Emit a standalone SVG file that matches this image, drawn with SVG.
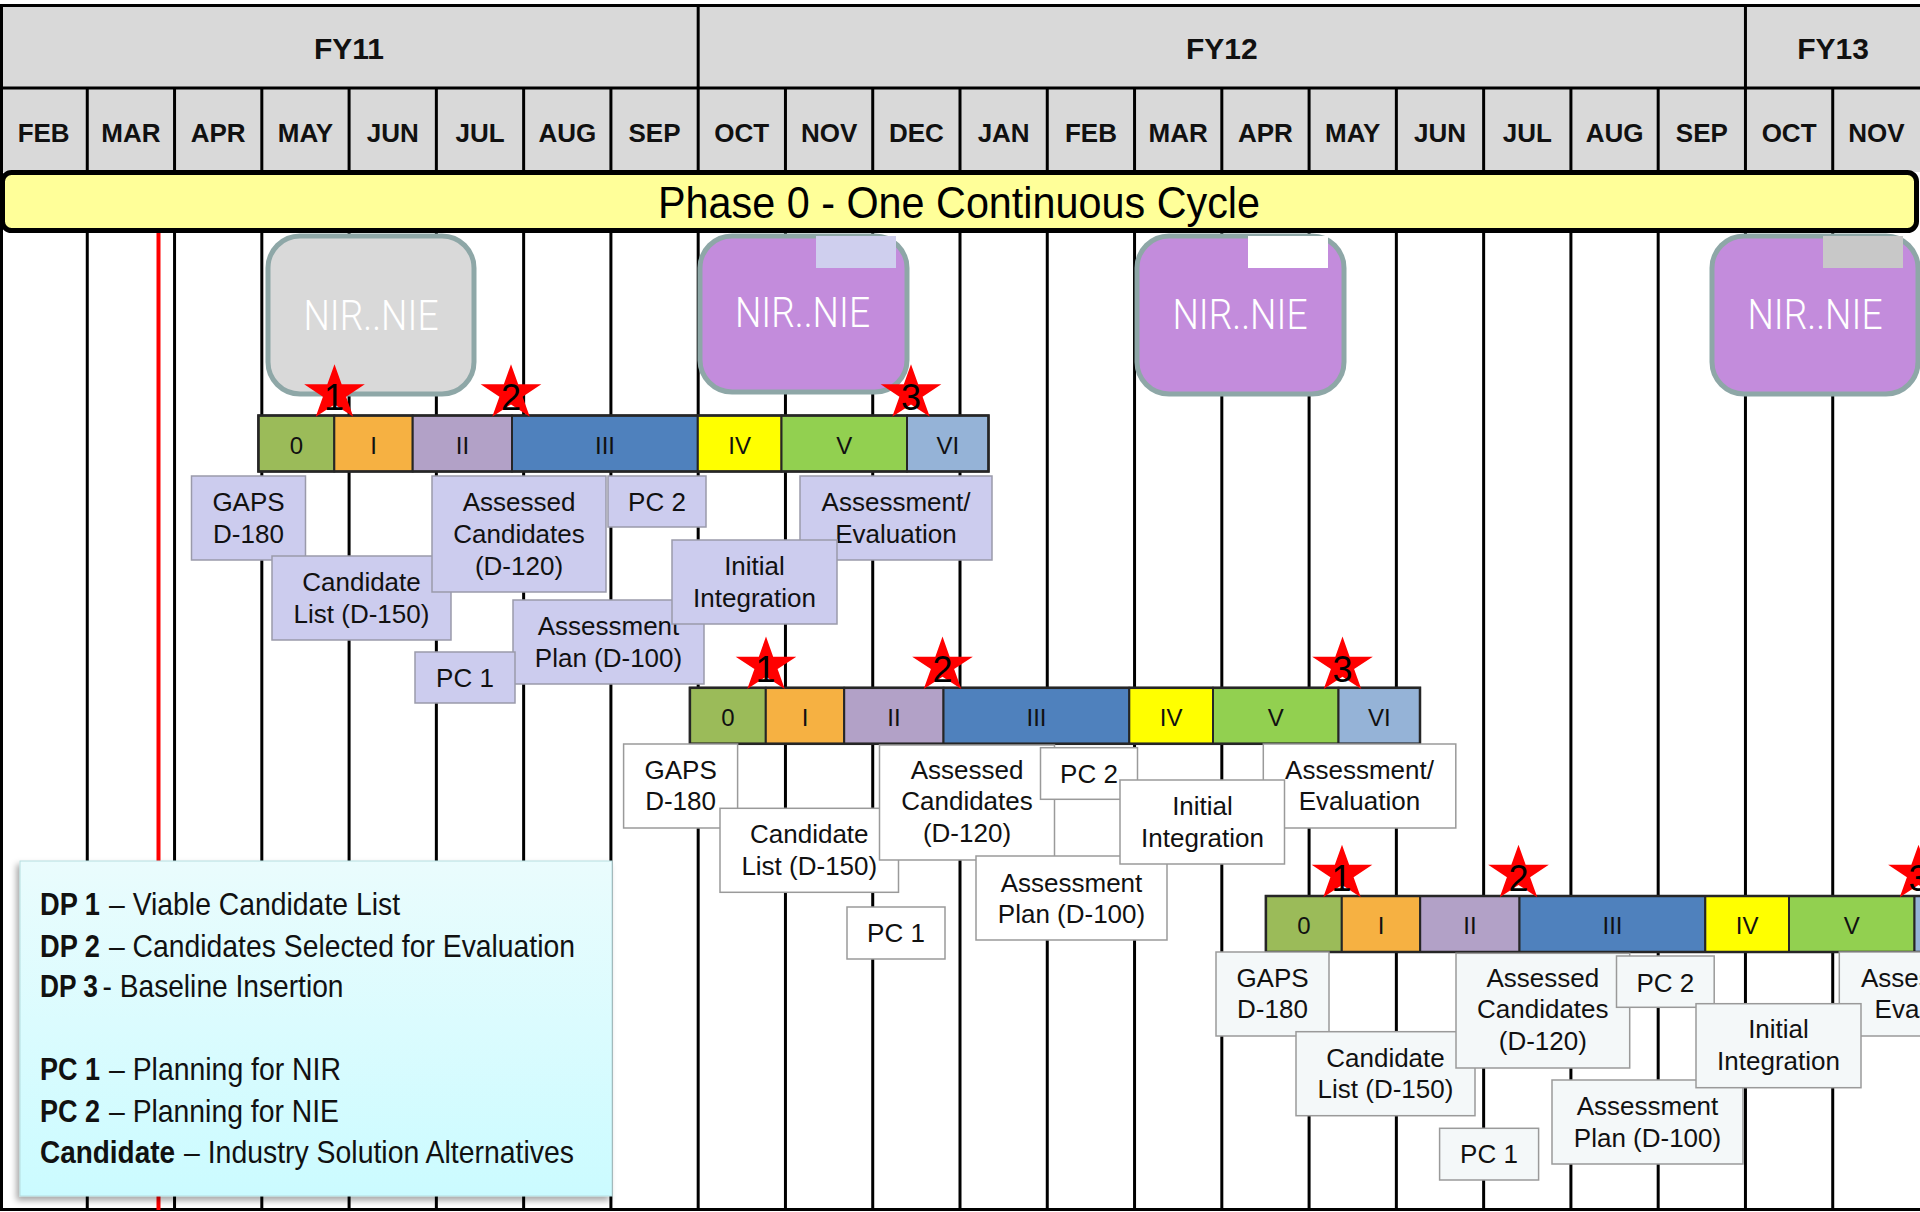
<svg xmlns="http://www.w3.org/2000/svg" xmlns:xlink="http://www.w3.org/1999/xlink" width="1920" height="1212" viewBox="0 0 1920 1212">
<style>
.hdr{fill:#d9d9d9}
.ln{stroke:#000;stroke-width:3;fill:none}
.mon{font-family:"Liberation Sans",Arial,sans-serif;font-weight:bold;font-size:26px;fill:#111;text-anchor:middle}
.fy{font-family:"Liberation Sans",Arial,sans-serif;font-weight:bold;font-size:30px;fill:#111;text-anchor:middle}
.nir{fill:#c38cdc;stroke:#8ea7a7;stroke-width:5}
.nirg{fill:#d9d9d9;stroke:#8ea7a7;stroke-width:5}
.nirt{font-family:Roboto,"Liberation Sans",Arial,sans-serif;font-weight:300;font-size:42px;fill:#fff;text-anchor:middle}
.seg{stroke:#262626;stroke-width:2}
.segt{font-family:"Liberation Sans Narrow","Liberation Sans",Arial,sans-serif;font-size:24px;fill:#111;text-anchor:middle}
.num{font-family:"Liberation Sans Narrow","Liberation Sans",Arial,sans-serif;font-size:36px;fill:#000;text-anchor:middle}
.lb1{fill:#ccccee;stroke:#9a9aaa;stroke-width:1.5}
.lb2{fill:#ffffff;stroke:#9a9a9a;stroke-width:1.5}
.lb3{fill:#f4f8f9;stroke:#9a9a9a;stroke-width:1.5}
.lt{font-family:"Liberation Sans",Arial,sans-serif;font-size:26px;fill:#111;text-anchor:middle}
.lg{font-family:"Liberation Sans Narrow","Liberation Sans",Arial,sans-serif;font-size:32px;fill:#111}
.lgb{font-family:"Liberation Sans Narrow","Liberation Sans",Arial,sans-serif;font-size:32px;font-weight:bold;fill:#111}
</style>
<defs>
<path id="star" d="M0,-29 L7.17,-8.96 L30.34,-8.96 L11.59,3.42 L18.75,23.46 L0,11.08 L-18.75,23.46 L-11.59,3.42 L-30.34,-8.96 L-7.17,-8.96 Z" fill="#ff0000"/>
<linearGradient id="lgGrad" x1="0" y1="0" x2="0" y2="1">
<stop offset="0" stop-color="#eafcfd"/>
<stop offset="1" stop-color="#cbfbff"/>
</linearGradient>
<filter id="shadow" x="-10%" y="-10%" width="120%" height="120%">
<feDropShadow dx="-3" dy="4" stdDeviation="3" flood-color="#000" flood-opacity="0.35"/>
</filter>
<g id="cycle">
<rect class="seg" x="258.4" y="415.5" width="75.9" height="56" fill="#9bbb59"/>
<rect class="seg" x="334.3" y="415.5" width="78.4" height="56" fill="#f6b142"/>
<rect class="seg" x="412.7" y="415.5" width="99.3" height="56" fill="#b2a1c7"/>
<rect class="seg" x="512" y="415.5" width="185.8" height="56" fill="#4f81bd"/>
<rect class="seg" x="697.8" y="415.5" width="83.7" height="56" fill="#ffff00"/>
<rect class="seg" x="781.5" y="415.5" width="125.5" height="56" fill="#92d050"/>
<rect class="seg" x="907" y="415.5" width="81.5" height="56" fill="#95b3d7"/>
<rect x="258.4" y="415.5" width="730.1" height="56" fill="none" stroke="#262626" stroke-width="2.5"/>
<text class="segt" x="296.4" y="453.5">0</text>
<text class="segt" x="373.5" y="453.5">I</text>
<text class="segt" x="462.4" y="453.5">II</text>
<text class="segt" x="605" y="453.5">III</text>
<text class="segt" x="739.7" y="453.5">IV</text>
<text class="segt" x="844.3" y="453.5">V</text>
<text class="segt" x="947.8" y="453.5">VI</text>
<use xlink:href="#star" href="#star" transform="translate(334.5,393.3)"/>
<use xlink:href="#star" href="#star" transform="translate(511,393.3)"/>
<use xlink:href="#star" href="#star" transform="translate(911,393.3)"/>
<text class="num" x="334" y="410">1</text>
<text class="num" x="511" y="410">2</text>
<text class="num" x="911" y="410">3</text>
</g>
</defs>

<rect x="0" y="0" width="1920" height="1212" fill="#ffffff"/>

<g id="header">
<rect class="hdr" x="0" y="5" width="1920" height="167"/>
<g class="ln">
<line x1="0" y1="5.5" x2="1920" y2="5.5"/>
<line x1="0" y1="88" x2="1920" y2="88"/>
<line x1="698.18" y1="5" x2="698.18" y2="88"/>
<line x1="1745.45" y1="5" x2="1745.45" y2="88"/>
<line x1="87.27" y1="88" x2="87.27" y2="172"/>
<line x1="174.55" y1="88" x2="174.55" y2="172"/>
<line x1="261.82" y1="88" x2="261.82" y2="172"/>
<line x1="349.09" y1="88" x2="349.09" y2="172"/>
<line x1="436.36" y1="88" x2="436.36" y2="172"/>
<line x1="523.64" y1="88" x2="523.64" y2="172"/>
<line x1="610.91" y1="88" x2="610.91" y2="172"/>
<line x1="698.18" y1="88" x2="698.18" y2="172"/>
<line x1="785.45" y1="88" x2="785.45" y2="172"/>
<line x1="872.73" y1="88" x2="872.73" y2="172"/>
<line x1="960" y1="88" x2="960" y2="172"/>
<line x1="1047.27" y1="88" x2="1047.27" y2="172"/>
<line x1="1134.55" y1="88" x2="1134.55" y2="172"/>
<line x1="1221.82" y1="88" x2="1221.82" y2="172"/>
<line x1="1309.09" y1="88" x2="1309.09" y2="172"/>
<line x1="1396.36" y1="88" x2="1396.36" y2="172"/>
<line x1="1483.64" y1="88" x2="1483.64" y2="172"/>
<line x1="1570.91" y1="88" x2="1570.91" y2="172"/>
<line x1="1658.18" y1="88" x2="1658.18" y2="172"/>
<line x1="1745.45" y1="88" x2="1745.45" y2="172"/>
<line x1="1832.73" y1="88" x2="1832.73" y2="172"/>
</g>
<text class="fy" x="349" y="59">FY11</text>
<text class="fy" x="1221.8" y="59">FY12</text>
<text class="fy" x="1833" y="59">FY13</text>
<text class="mon" x="43.64" y="142">FEB</text>
<text class="mon" x="130.91" y="142">MAR</text>
<text class="mon" x="218.18" y="142">APR</text>
<text class="mon" x="305.45" y="142">MAY</text>
<text class="mon" x="392.73" y="142">JUN</text>
<text class="mon" x="480" y="142">JUL</text>
<text class="mon" x="567.27" y="142">AUG</text>
<text class="mon" x="654.55" y="142">SEP</text>
<text class="mon" x="741.82" y="142">OCT</text>
<text class="mon" x="829.09" y="142">NOV</text>
<text class="mon" x="916.36" y="142">DEC</text>
<text class="mon" x="1003.64" y="142">JAN</text>
<text class="mon" x="1090.91" y="142">FEB</text>
<text class="mon" x="1178.18" y="142">MAR</text>
<text class="mon" x="1265.45" y="142">APR</text>
<text class="mon" x="1352.73" y="142">MAY</text>
<text class="mon" x="1440" y="142">JUN</text>
<text class="mon" x="1527.27" y="142">JUL</text>
<text class="mon" x="1614.55" y="142">AUG</text>
<text class="mon" x="1701.82" y="142">SEP</text>
<text class="mon" x="1789.09" y="142">OCT</text>
<text class="mon" x="1876.36" y="142">NOV</text>
</g>

<g id="grid" class="ln">
<line x1="1.5" y1="5" x2="1.5" y2="1211"/>
<line x1="0" y1="1209.5" x2="1920" y2="1209.5"/>
<line x1="87.27" y1="232" x2="87.27" y2="1210"/>
<line x1="174.55" y1="232" x2="174.55" y2="1210"/>
<line x1="261.82" y1="232" x2="261.82" y2="1210"/>
<line x1="349.09" y1="232" x2="349.09" y2="1210"/>
<line x1="436.36" y1="232" x2="436.36" y2="1210"/>
<line x1="523.64" y1="232" x2="523.64" y2="1210"/>
<line x1="610.91" y1="232" x2="610.91" y2="1210"/>
<line x1="698.18" y1="232" x2="698.18" y2="1210"/>
<line x1="785.45" y1="232" x2="785.45" y2="1210"/>
<line x1="872.73" y1="232" x2="872.73" y2="1210"/>
<line x1="960" y1="232" x2="960" y2="1210"/>
<line x1="1047.27" y1="232" x2="1047.27" y2="1210"/>
<line x1="1134.55" y1="232" x2="1134.55" y2="1210"/>
<line x1="1221.82" y1="232" x2="1221.82" y2="1210"/>
<line x1="1309.09" y1="232" x2="1309.09" y2="1210"/>
<line x1="1396.36" y1="232" x2="1396.36" y2="1210"/>
<line x1="1483.64" y1="232" x2="1483.64" y2="1210"/>
<line x1="1570.91" y1="232" x2="1570.91" y2="1210"/>
<line x1="1658.18" y1="232" x2="1658.18" y2="1210"/>
<line x1="1745.45" y1="232" x2="1745.45" y2="1210"/>
<line x1="1832.73" y1="232" x2="1832.73" y2="1210"/>
</g>
<line id="today" x1="158.5" y1="232" x2="158.5" y2="1210" stroke="#ff0000" stroke-width="4"/>

<g id="phase-bar">
<rect x="2.5" y="172.5" width="1914" height="58" rx="9" fill="#ffff99" stroke="#000" stroke-width="5"/>
<text x="658" y="218" textLength="602" lengthAdjust="spacingAndGlyphs" font-family="'Liberation Sans Narrow','Liberation Sans',Arial,sans-serif" font-size="44" fill="#000">Phase 0 - One Continuous Cycle</text>
</g>

<g id="nir1">
<rect class="nirg" x="268" y="236" width="206" height="158" rx="32"/>
<text class="nirt" x="371" y="330" textLength="135" lengthAdjust="spacingAndGlyphs">NIR..NIE</text>
</g>
<g id="nir2">
<rect class="nir" x="700" y="236" width="207" height="156" rx="32"/>
<rect x="816" y="236" width="80" height="32" fill="#cfcfee"/>
<text class="nirt" x="802.5" y="327" textLength="135" lengthAdjust="spacingAndGlyphs">NIR..NIE</text>
</g>
<g id="nir3">
<rect class="nir" x="1137" y="236" width="207" height="158" rx="32"/>
<rect x="1248" y="236" width="80" height="32" fill="#ffffff"/>
<text class="nirt" x="1240" y="329" textLength="135" lengthAdjust="spacingAndGlyphs">NIR..NIE</text>
</g>
<g id="nir4">
<rect class="nir" x="1712" y="236" width="206" height="158" rx="32"/>
<rect x="1823" y="236" width="80" height="32" fill="#c8c8c8"/>
<text class="nirt" x="1815" y="329" textLength="135" lengthAdjust="spacingAndGlyphs">NIR..NIE</text>
</g>

<g id="cycle1"><use xlink:href="#cycle" href="#cycle"/></g>
<g id="r1-gaps"><rect class="lb1" x="191.5" y="476" width="114" height="84"/><text class="lt"><tspan x="248.5" y="511">GAPS</tspan><tspan x="248.5" y="543">D-180</tspan></text></g>
<g id="r1-candlist"><rect class="lb1" x="272" y="556" width="179" height="84"/><text class="lt"><tspan x="361.5" y="591">Candidate</tspan><tspan x="361.5" y="623">List (D-150)</tspan></text></g>
<g id="r1-assessed"><rect class="lb1" x="432" y="476" width="174" height="116"/><text class="lt"><tspan x="519" y="511">Assessed</tspan><tspan x="519" y="543">Candidates</tspan><tspan x="519" y="575">(D-120)</tspan></text></g>
<g id="r1-pc2"><rect class="lb1" x="608" y="476" width="98" height="51"/><text class="lt" x="657" y="511">PC 2</text></g>
<g id="r1-asseval"><rect class="lb1" x="800" y="476" width="192" height="84"/><text class="lt"><tspan x="896" y="511">Assessment/</tspan><tspan x="896" y="543">Evaluation</tspan></text></g>
<g id="r1-plan"><rect class="lb1" x="513" y="600" width="191" height="84"/><text class="lt"><tspan x="608.5" y="635">Assessment</tspan><tspan x="608.5" y="667">Plan (D-100)</tspan></text></g>
<g id="r1-initial"><rect class="lb1" x="672" y="540" width="165" height="84"/><text class="lt"><tspan x="754.5" y="575">Initial</tspan><tspan x="754.5" y="607">Integration</tspan></text></g>
<g id="r1-pc1"><rect class="lb1" x="415" y="652" width="100" height="51"/><text class="lt" x="465" y="686.5">PC 1</text></g>

<g id="cycle2"><use xlink:href="#cycle" href="#cycle" transform="translate(431.5,272.3)"/></g>
<g id="r2-gaps"><rect class="lb2" x="623.6" y="744" width="114" height="84"/><text class="lt"><tspan x="680.6" y="778.5">GAPS</tspan><tspan x="680.6" y="810">D-180</tspan></text></g>
<g id="r2-candlist"><rect class="lb2" x="720" y="808.3" width="178.5" height="84"/><text class="lt"><tspan x="809.3" y="843.3">Candidate</tspan><tspan x="809.3" y="875">List (D-150)</tspan></text></g>
<g id="r2-assessed"><rect class="lb2" x="879.5" y="745" width="175" height="115"/><text class="lt"><tspan x="967" y="778.5">Assessed</tspan><tspan x="967" y="810">Candidates</tspan><tspan x="967" y="841.7">(D-120)</tspan></text></g>
<g id="r2-pc2"><rect class="lb2" x="1040.5" y="747.7" width="97" height="51.6"/><text class="lt" x="1089" y="783.3">PC 2</text></g>
<g id="r2-plan"><rect class="lb2" x="976" y="856" width="191" height="84"/><text class="lt"><tspan x="1071.5" y="891.7">Assessment</tspan><tspan x="1071.5" y="923.3">Plan (D-100)</tspan></text></g>
<g id="r2-asseval"><rect class="lb2" x="1263.3" y="744" width="192.5" height="84"/><text class="lt"><tspan x="1359.5" y="778.5">Assessment/</tspan><tspan x="1359.5" y="810">Evaluation</tspan></text></g>
<g id="r2-initial"><rect class="lb2" x="1120" y="780" width="164.5" height="84"/><text class="lt"><tspan x="1202.5" y="815">Initial</tspan><tspan x="1202.5" y="846.7">Integration</tspan></text></g>
<g id="r2-pc1"><rect class="lb2" x="847" y="907" width="98" height="52"/><text class="lt" x="896" y="942">PC 1</text></g>

<g id="cycle3"><use xlink:href="#cycle" href="#cycle" transform="translate(1007.5,480.5)"/></g>
<g id="r3-gaps"><rect class="lb3" x="1216" y="952" width="113" height="84"/><text class="lt"><tspan x="1272.5" y="986.7">GAPS</tspan><tspan x="1272.5" y="1018.3">D-180</tspan></text></g>
<g id="r3-candlist"><rect class="lb3" x="1296" y="1031.7" width="179" height="84"/><text class="lt"><tspan x="1385.5" y="1066.7">Candidate</tspan><tspan x="1385.5" y="1098.3">List (D-150)</tspan></text></g>
<g id="r3-assessed"><rect class="lb3" x="1456" y="953.3" width="173.7" height="114.7"/><text class="lt"><tspan x="1542.8" y="986.7">Assessed</tspan><tspan x="1542.8" y="1018.3">Candidates</tspan><tspan x="1542.8" y="1050">(D-120)</tspan></text></g>
<g id="r3-pc2"><rect class="lb3" x="1616.5" y="956" width="97.7" height="51.3"/><text class="lt" x="1665.3" y="991.7">PC 2</text></g>
<g id="r3-plan"><rect class="lb3" x="1552" y="1080" width="191" height="84"/><text class="lt"><tspan x="1647.5" y="1115">Assessment</tspan><tspan x="1647.5" y="1146.7">Plan (D-100)</tspan></text></g>
<g id="r3-asseval"><rect class="lb3" x="1839.3" y="952" width="192" height="84"/><text class="lt"><tspan x="1935.3" y="986.7">Assessment/</tspan><tspan x="1935.3" y="1018.3">Evaluation</tspan></text></g>
<g id="r3-initial"><rect class="lb3" x="1696" y="1003.7" width="165" height="84"/><text class="lt"><tspan x="1778.5" y="1038.3">Initial</tspan><tspan x="1778.5" y="1070">Integration</tspan></text></g>
<g id="r3-pc1"><rect class="lb3" x="1439.6" y="1128.3" width="99" height="51.7"/><text class="lt" x="1489" y="1163.3">PC 1</text></g>

<g id="legend">
<rect x="20" y="861" width="592" height="335" fill="url(#lgGrad)" stroke="#b5dde0" stroke-width="1" filter="url(#shadow)"/>
<text class="lgb" x="40" y="915" textLength="60" lengthAdjust="spacingAndGlyphs">DP 1</text>
<text class="lg" x="109" y="915" textLength="291" lengthAdjust="spacingAndGlyphs">– Viable Candidate List</text>
<text class="lgb" x="40" y="957" textLength="60" lengthAdjust="spacingAndGlyphs">DP 2</text>
<text class="lg" x="109" y="957" textLength="466" lengthAdjust="spacingAndGlyphs">– Candidates Selected for Evaluation</text>
<text class="lgb" x="40" y="997" textLength="58" lengthAdjust="spacingAndGlyphs">DP 3</text>
<text class="lg" x="102.5" y="997" textLength="241" lengthAdjust="spacingAndGlyphs">- Baseline Insertion</text>
<text class="lgb" x="40" y="1080" textLength="60" lengthAdjust="spacingAndGlyphs">PC 1</text>
<text class="lg" x="109" y="1080" textLength="232" lengthAdjust="spacingAndGlyphs">– Planning for NIR</text>
<text class="lgb" x="40" y="1122" textLength="60" lengthAdjust="spacingAndGlyphs">PC 2</text>
<text class="lg" x="109" y="1122" textLength="230" lengthAdjust="spacingAndGlyphs">– Planning for NIE</text>
<text class="lgb" x="40" y="1163" textLength="135" lengthAdjust="spacingAndGlyphs">Candidate</text>
<text class="lg" x="184" y="1163" textLength="390" lengthAdjust="spacingAndGlyphs">– Industry Solution Alternatives</text>
</g>
</svg>
